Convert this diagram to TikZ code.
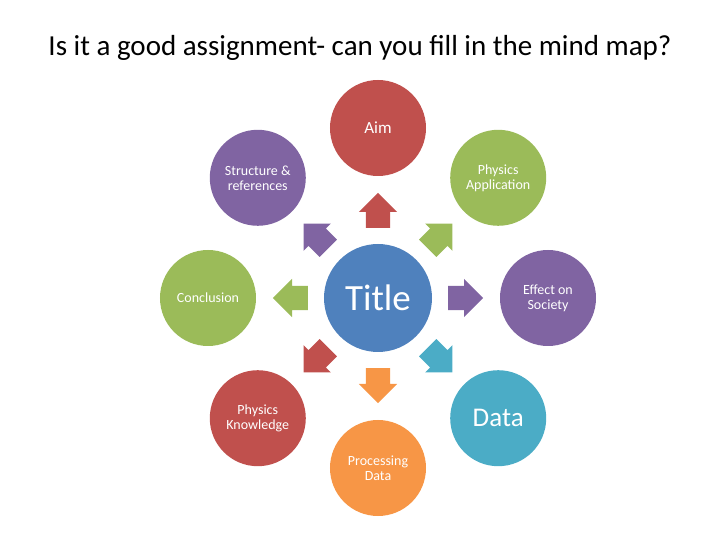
\documentclass[tikz,border=0pt]{standalone}
\usepackage{fontspec}
\setmainfont{Carlito}
\usetikzlibrary{shapes.arrows}
\definecolor{MapBlue}{HTML}{4F81BD}
\definecolor{MapRed}{HTML}{C0504D}
\definecolor{MapGreen}{HTML}{9BBB59}
\definecolor{MapPurple}{HTML}{8064A2}
\definecolor{MapTeal}{HTML}{4BACC6}
\definecolor{MapOrange}{HTML}{F79646}
\tikzset{
  bubble/.style={circle, minimum size=96pt, inner sep=0pt, text=white,
    align=center, font=\fontsize{14}{15}\selectfont},
  blockarrow/.style={single arrow, minimum height=35pt, inner xsep=0pt,
    inner ysep=12pt, single arrow head extend=7pt, anchor=tail},
}

\begin{document}
\begin{tikzpicture}[x=1pt,y=1pt]
  \useasboundingbox (-378,-242) rectangle (342,298);
  % heading
  \node (heading) at (-18,250) {\fontsize{29}{34}\selectfont Is it a good assignment- can you fill in the mind map?};
  % centre of the map
  \node[circle, minimum size=108pt, inner sep=0pt, fill=MapBlue, text=white,
    font=\fontsize{37}{40}\selectfont] (title) at (0,0) {Title};
  % outer bubbles and their arrows
  \foreach \ang/\name/\col/\txt in {
      90/aim/MapRed/{\fontsize{17}{18}\selectfont Aim},
      45/application/MapGreen/{Physics\\Application},
      0/society/MapPurple/{Effect on\\Society},
      -45/data/MapTeal/{\fontsize{27}{30}\selectfont Data},
      -90/processing/MapOrange/{Processing\\Data},
      -135/knowledge/MapRed/{Physics\\Knowledge},
      180/conclusion/MapGreen/{Conclusion},
      135/structure/MapPurple/{Structure \&\\references}}
  {
    \node[bubble, fill=\col] (\name) at (\ang:170) {\txt};
    \node[blockarrow, fill=\col, rotate=\ang] (\name-arrow) at (\ang:70) {};
  }
\end{tikzpicture}
\end{document}
